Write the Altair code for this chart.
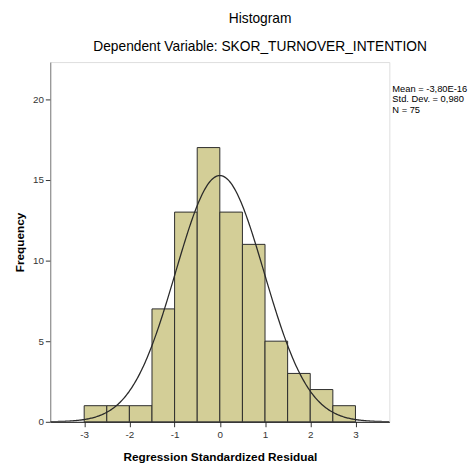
import altair as alt
import pandas as pd

# Histogram bins (width 0.5) and frequencies
bin_start = [-3.0, -2.5, -2.0, -1.5, -1.0, -0.5, 0.0, 0.5, 1.0, 1.5, 2.0, 2.5]
bin_end = [-2.5, -2.0, -1.5, -1.0, -0.5, 0.0, 0.5, 1.0, 1.5, 2.0, 2.5, 3.0]
counts = [1, 1, 1, 7, 13, 17, 13, 11, 5, 3, 2, 1]

# Normal curve parameters shown in the legend
mean_val = -3.80e-16
sd_val = 0.980
n_val = 75
bin_width = 0.5

x_ticks = [-3, -2, -1, 0, 1, 2, 3]
y_ticks = [0, 5, 10, 15, 20]

bars_df = pd.DataFrame({"start": bin_start, "end": bin_end, "count": counts})

FONT = "Liberation Sans"
xscale = alt.Scale(domain=[-3.75, 3.75], nice=False, zero=False)
yscale = alt.Scale(domain=[0, 22.3], nice=False)
minus_fix = "replace(datum.label, '\u2212', '-')"

bars = alt.Chart(bars_df).mark_rect(
    fill="#d3ce97", stroke="#2b2b2b", strokeWidth=1
).encode(
    x=alt.X("start:Q", scale=xscale,
            axis=alt.Axis(values=x_ticks, title="Regression Standardized Residual",
                          labelExpr=minus_fix,
                          labelFontSize=10, labelColor="#333", tickColor="#333",
                          domainColor="#111", tickSize=5, labelPadding=3,
                          titleFontSize=12, titleFontWeight="bold", titlePadding=12,
                          titleColor="#000", grid=False, labelFont=FONT, titleFont=FONT)),
    x2="end:Q",
    y=alt.Y("count:Q", scale=yscale,
            axis=alt.Axis(values=y_ticks, title="Frequency",
                          labelFontSize=10, labelColor="#333", tickColor="#333",
                          domainColor="#808080", tickSize=5, labelPadding=2,
                          titleFontSize=12, titleFontWeight="bold", titlePadding=6,
                          titleColor="#000", grid=False, labelFont=FONT, titleFont=FONT)),
    y2=alt.datum(0),
)

curve = alt.Chart(alt.sequence(-3.75, 3.76, 0.02, as_="x")).transform_calculate(
    y=f"{n_val}*{bin_width}/({sd_val}*sqrt(2*PI))*exp(-0.5*pow((datum.x-({mean_val}))/{sd_val},2))"
).mark_line(color="#2a2a2a", strokeWidth=1.3, clip=True).encode(
    x=alt.X("x:Q", scale=xscale),
    y=alt.Y("y:Q", scale=yscale),
)

legend_text = alt.Chart(pd.DataFrame({"t": [0]})).mark_text(
    align="left", baseline="top", fontSize=9.5, font=FONT, color="#000",
    lineBreak="\n", lineHeight=11
).encode(
    x=alt.value(348),
    y=alt.value(22),
    text=alt.value(f"Mean = -3,80E-16\nStd. Dev. = 0,980\nN = {n_val}"),
)

chart = alt.layer(bars, curve, legend_text).properties(
    width=345,
    height=366,
    autosize=alt.AutoSizeParams(type="none"),
    padding={"left": 43, "top": 51, "right": 80, "bottom": 45},
    title=alt.Title(
        "Histogram",
        subtitle="Dependent Variable: SKOR_TURNOVER_INTENTION",
        anchor="middle", dx=41, fontSize=14, fontWeight="normal", font=FONT,
        subtitleFont=FONT, subtitleFontSize=14, subtitleColor="#000", color="#000",
        offset=8, subtitlePadding=15,
    ),
).configure_view(
    fill="#f0f0f0", stroke="#8c8c8c", strokeWidth=1
).configure(background="white")

chart.save("out.html", embed_options={"renderer": "svg", "actions": False})
